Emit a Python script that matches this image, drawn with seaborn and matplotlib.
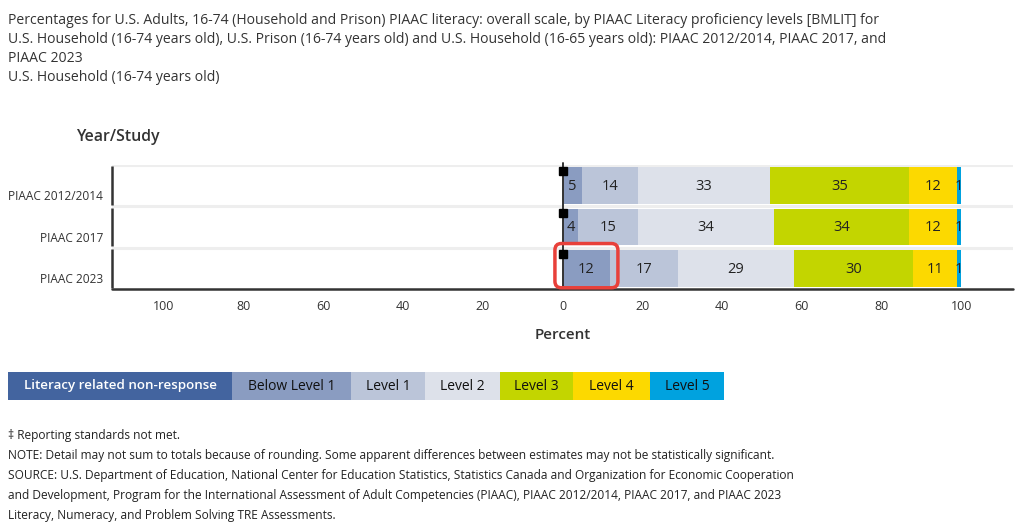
import matplotlib
matplotlib.use("Agg")
import matplotlib.pyplot as plt
import seaborn as sns
import pandas as pd
from matplotlib.patches import FancyBboxPatch, Rectangle

# ---------------- data ----------------
studies = ["PIAAC 2012/2014", "PIAAC 2017", "PIAAC 2023"]
levels = ["Below Level 1", "Level 1", "Level 2", "Level 3", "Level 4", "Level 5"]
below_level_1 = [5, 4, 12]
level_1 = [14, 15, 17]
level_2 = [33, 34, 29]
level_3 = [35, 34, 30]
level_4 = [12, 12, 11]
level_5 = [1, 1, 1]
legend_labels = ["Literacy related non-response", "Below Level 1", "Level 1",
                 "Level 2", "Level 3", "Level 4", "Level 5"]
tick_values = [-100, -80, -60, -40, -20, 0, 20, 40, 60, 80, 100]
tick_labels = ["100", "80", "60", "40", "20", "0", "20", "40", "60", "80", "100"]

title_lines = [
    "Percentages for U.S. Adults, 16-74 (Household and Prison) PIAAC literacy: overall scale, by PIAAC Literacy proficiency levels [BMLIT] for",
    "U.S. Household (16-74 years old), U.S. Prison (16-74 years old) and U.S. Household (16-65 years old): PIAAC 2012/2014, PIAAC 2017, and",
    "PIAAC 2023",
    "U.S. Household (16-74 years old)",
]
footnotes = [
    "\u2021 Reporting standards not met.",
    "NOTE: Detail may not sum to totals because of rounding. Some apparent differences between estimates may not be statistically significant.",
    "SOURCE: U.S. Department of Education, National Center for Education Statistics, Statistics Canada and Organization for Economic Cooperation",
    "and Development, Program for the International Assessment of Adult Competencies (PIAAC), PIAAC 2012/2014, PIAAC 2017, and PIAAC 2023",
    "Literacy, Numeracy, and Problem Solving TRE Assessments.",
]

colors = {
    "Literacy related non-response": "#43649f",
    "Below Level 1": "#8a9cc1",
    "Level 1": "#bbc5d9",
    "Level 2": "#dde1ea",
    "Level 3": "#c3d500",
    "Level 4": "#fcd900",
    "Level 5": "#00a2df",
}

# ---------------- style ----------------
sns.set_style("white")
plt.rcParams["font.family"] = ["Open Sans", "DejaVu Sans"]
TXT = "#333333"

W, H = 1033, 531
fig = plt.figure(figsize=(W / 100, H / 100), dpi=100)
ax = fig.add_axes([112 / W, 1 - 289 / H, (1013 - 112) / W, (289 - 165) / H])

df = pd.DataFrame({"study": studies})
series = [below_level_1, level_1, level_2, level_3, level_4, level_5]
for lev, vals in zip(levels, series):
    df[lev] = vals
cum = df[levels].cumsum(axis=1)
for lev in levels:
    df["cum_" + lev] = cum[lev]

bar_w = 0.89
for lev in reversed(levels):
    sns.barplot(data=df, x="cum_" + lev, y="study", color=colors[lev],
                saturation=1, width=bar_w, orient="h", linewidth=0, ax=ax,
                zorder=2)

XL = 113
ax.set_xlim(-XL, XL)
ax.set_ylim(2.5, -0.5)

# labels inside bars
for i, st in enumerate(studies):
    start = 0
    for lev in levels:
        v = df.loc[i, lev]
        ax.text(start + v / 2, i + 0.02, f"{v}", ha="center", va="center",
                fontsize=10.5, color="#222222", zorder=5)
        start += v

# non-response marker (reporting standards not met)
for i in range(len(studies)):
    ax.plot([0.2], [i - 0.35], marker="s", markersize=5.8, color="black",
            zorder=6, clip_on=False)

# zero line
ax.plot([0, 0], [2.5, -0.55], color=TXT, lw=1.4, zorder=4, clip_on=False)

# row separators
for y in [-0.5, 0.5, 1.5]:
    ax.axhline(y, color="#eeeeee", lw=2.2, zorder=1)

# spines
for s in ["top", "right", "left", "bottom"]:
    ax.spines[s].set_visible(False)
ax.axhline(2.5, color=TXT, lw=1.8, zorder=1, clip_on=False)
for i in range(len(studies)):
    ax.plot([-XL, -XL], [i - 0.47, i + 0.47], color=TXT, lw=1.8,
            clip_on=False, zorder=3, solid_capstyle="butt")

ax.set_xticks(tick_values)
ax.set_xticklabels(tick_labels, fontsize=9, color=TXT)
ax.tick_params(axis="x", color="white", length=4, width=1.2,
               direction="inout", pad=6)
ax.set_yticks([])
ax.set_ylabel("")
ax.set_xlabel("Percent", fontsize=11, fontweight="semibold", color=TXT,
              labelpad=11)
ax.grid(False)

for i, st in enumerate(studies):
    ax.text(-XL - 2.3, i + 0.27, st, ha="right", va="center", fontsize=8.6,
            color=TXT, clip_on=False)

# highlight box
box = FancyBboxPatch((-1.9, 1.40), 15.8, 1.07,
                     boxstyle="round,pad=0,rounding_size=1.6",
                     fill=False, edgecolor="#e8403a", lw=2.5, zorder=7,
                     clip_on=False, mutation_aspect=0.1)
ax.add_patch(box)

# title
for k, line in enumerate(title_lines):
    fig.text(8 / W, 1 - (20 + 19.2 * k) / H, line, ha="left", va="center",
             fontsize=10.1, color=TXT)

fig.text(118 / W, 1 - 137 / H, "Year/Study", ha="center", va="center",
         fontsize=11.4, fontweight="semibold", color=TXT)

# legend
edges = [8, 232, 351, 425, 500, 573, 650, 724]
for k, lab in enumerate(legend_labels):
    x0, x1 = edges[k], edges[k + 1]
    fig.add_artist(Rectangle((x0 / W, 1 - 400 / H), (x1 - x0) / W, 28 / H,
                             transform=fig.transFigure, color=colors[lab],
                             lw=0))
    if k == 0:
        fig.text((x0 + x1) / 2 / W, 1 - 386 / H, lab, ha="center",
                 va="center", fontsize=9.6, fontweight="semibold",
                 color="white")
    else:
        fig.text((x0 + x1) / 2 / W, 1 - 386 / H, lab, ha="center",
                 va="center", fontsize=10, fontweight="medium",
                 color="#111111")

# footnotes
for k, line in enumerate(footnotes):
    fig.text(8 / W, 1 - (436 + 20 * k) / H, line, ha="left", va="center",
             fontsize=8.55, color="#222222")

fig.savefig("out.png", dpi=100)
